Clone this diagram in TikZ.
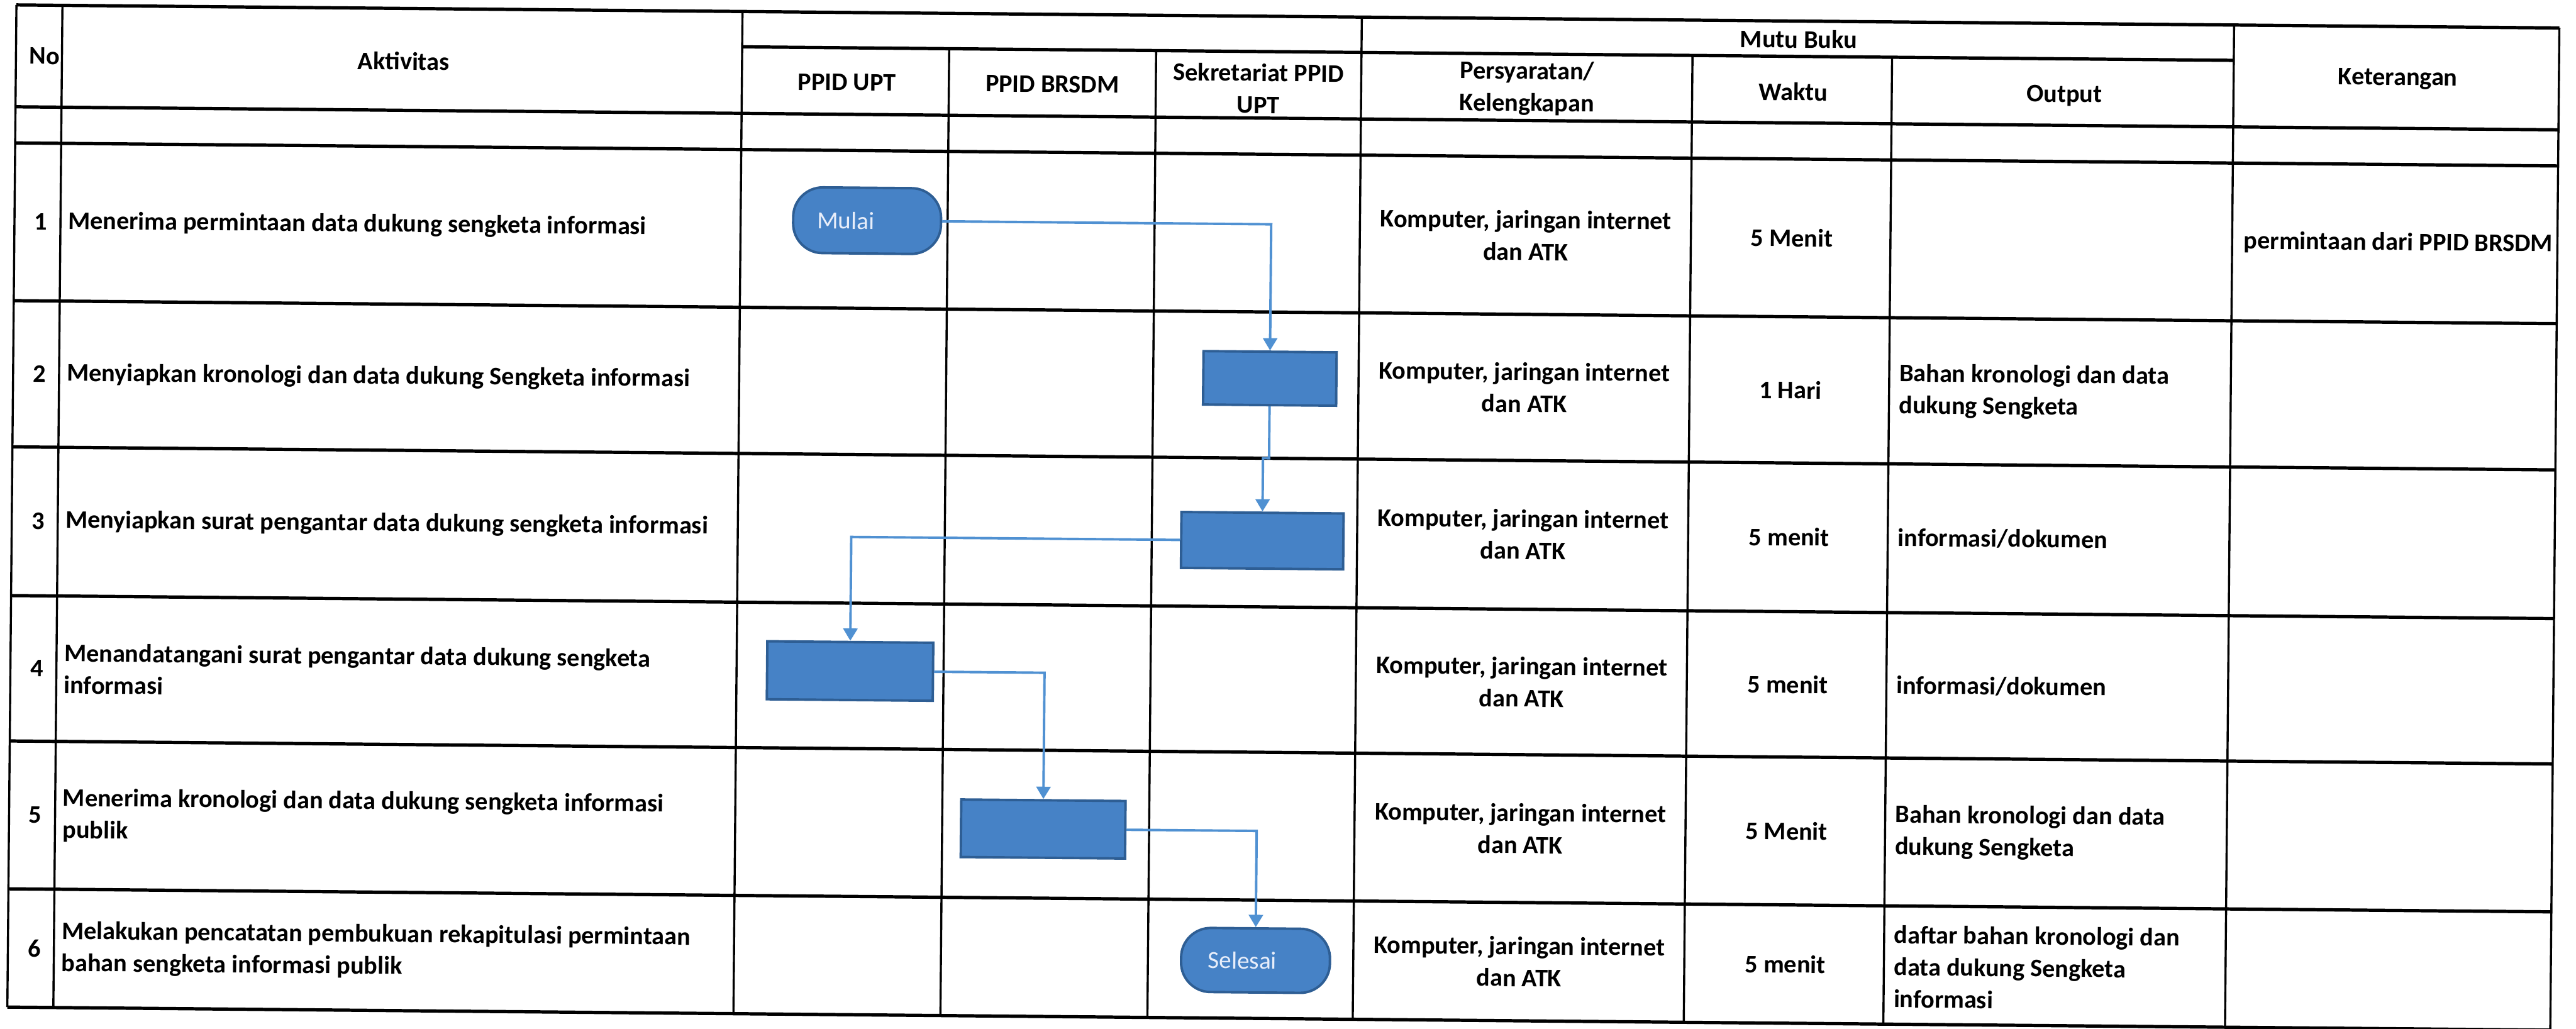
\documentclass[tikz,border=0pt]{standalone}
\usepackage{fontspec}
\setmainfont{Carlito}
\usetikzlibrary{arrows.meta}
\definecolor{boxfill}{RGB}{70,130,198}
\definecolor{boxline}{RGB}{46,94,148}
\definecolor{flowline}{RGB}{80,145,210}
\definecolor{boxtext}{RGB}{232,238,250}
\begin{document}
\begin{tikzpicture}[x=1pt,y=-1pt,
  hl/.style={line width=2.0pt, black},
  vl/.style={line width=1.3pt, black},
  txt/.style={font=\fontsize{15.4}{19.5}\selectfont\bfseries, inner sep=0pt},
  hdr/.style={txt, align=center},
  ctr/.style={txt, align=center},
  cell/.style={txt, anchor=west, align=left},
  proc/.style={draw=boxline, fill=boxfill, line width=1.5pt},
  term/.style={draw=boxline, fill=boxfill, line width=1.5pt, rounded corners=18pt},
  boxtxt/.style={font=\fontsize{15}{18}\selectfont, text=boxtext, inner sep=0pt},
  flow/.style={draw=flowline, line width=1.5pt, -{Triangle[width=8.6pt,length=7.5pt]}}
]
\useasboundingbox (0,0) rectangle (1568,626);
\fill[white] (0,0) rectangle (1568,626);
\begin{scope}[rotate around={-0.52:(10,3)}, transform shape]
  % horizontal rules
  \draw[hl] (10,3) -- (1558,3);
  \draw[hl] (452,24.5) -- (1360,24.5);
  \foreach \yy in {65,87,183,272,362.5,451,541,613}
    \draw[hl] (10,\yy) -- (1558,\yy);
  % vertical rules
  \foreach \xx in {10,38,452,829,1360,1558}
    \draw[vl] (\xx,3) -- (\xx,613);
  \foreach \xx in {578,704,1030.5,1152}
    \draw[vl] (\xx,24.5) -- (\xx,613);

  % header
  \node[hdr] (hNo) at (27.5,34) {No};
  \node[hdr] (hAkt) at (246,35) {Aktivitas};
  \node[hdr] (hUPT) at (516,45.5) {PPID UPT};
  \node[hdr] (hBR) at (641,45.5) {PPID BRSDM};
  \node[hdr] (hSek) at (766.5,47) {Sekretariat PPID\\UPT};
  \node[hdr] (hMutu) at (1095,14) {Mutu Buku};
  \node[hdr] (hPer) at (930,45.5) {Persyaratan/\\Kelengkapan};
  \node[hdr] (hWak) at (1092,46) {Waktu};
  \node[hdr] (hOut) at (1257,47) {Output};
  \node[hdr] (hKet) at (1460,35) {Keterangan};

  % numbers
  \node[ctr] (n1) at (26,135) {1};
  \node[ctr] (n2) at (26,227.5) {2};
  \node[ctr] (n3) at (26,317) {3};
  \node[ctr] (n4) at (26,406.8) {4};
  \node[ctr] (n5) at (26,496) {5};
  \node[ctr] (n6) at (26,577) {6};

  % activities
  \node[cell] (a1) at (42.5,135) {Menerima permintaan data dukung sengketa informasi};
  \node[cell] (a2) at (42.5,227.5) {Menyiapkan kronologi dan data dukung Sengketa informasi};
  \node[cell] (a3) at (42.5,317) {Menyiapkan surat pengantar data dukung sengketa informasi};
  \node[cell] (a4) at (42.5,406.8) {Menandatangani surat pengantar data dukung sengketa\\informasi};
  \node[cell] (a5) at (42.5,496) {Menerima kronologi dan data dukung sengketa informasi\\publik};
  \node[cell] (a6) at (42.5,577) {Melakukan pencatatan pembukuan rekapitulasi permintaan\\bahan sengketa informasi publik};

  % persyaratan
  \foreach \yy/\nm in {135/p1,227.5/p2,317/p3,406.8/p4,496/p5,577/p6}
    \node[ctr] (\nm) at (930,\yy) {Komputer, jaringan internet\\dan ATK};

  % waktu
  \node[ctr] (w1) at (1092,135) {5 Menit};
  \node[ctr] (w2) at (1092,227.5) {1 Hari};
  \node[ctr] (w3) at (1092,317) {5 menit};
  \node[ctr] (w4) at (1092,406.8) {5 menit};
  \node[ctr] (w5) at (1092,496) {5 Menit};
  \node[ctr] (w6) at (1092,577) {5 menit};

  % output
  \node[cell] (o2) at (1158,227.5) {Bahan kronologi dan data\\dukung Sengketa};
  \node[cell] (o3) at (1158,317) {informasi/dokumen};
  \node[cell] (o4) at (1158,406.8) {informasi/dokumen};
  \node[cell] (o5) at (1158,496) {Bahan kronologi dan data\\dukung Sengketa};
  \node[cell] (o6) at (1158,578) {daftar bahan kronologi dan\\data dukung Sengketa\\informasi};

  % keterangan
  \node[cell] (k1) at (1367,135) {permintaan dari PPID BRSDM};

  % flowchart
  \node[term, minimum width=90pt, minimum height=40pt] (mulai) at (529,129.6) {};
  \node[boxtxt] (tmulai) at ([xshift=-13pt]mulai.center) {Mulai};
  \node[proc, minimum width=81pt, minimum height=32.5pt] (b2) at (775,223.4) {};
  \node[proc, minimum width=98.7pt, minimum height=34pt] (b3) at (771.3,322.2) {};
  \node[proc, minimum width=101pt, minimum height=35.3pt] (b4) at (521.1,403.8) {};
  \node[proc, minimum width=100pt, minimum height=35pt] (b5) at (639.5,498.9) {};
  \node[term, minimum width=90.6pt, minimum height=39pt] (sel) at (769.5,577.7) {};
  \node[boxtxt] (tsel) at ([xshift=-8pt]sel.center) {Selesai};

  \coordinate (jy) at (0,272);
  \draw[flow] (mulai.east) -| (b2.north);
  \draw[flow] (b2.south) -- (b2.south |- jy) -| (b3.north);
  \draw[flow] (b3.west) -| (b4.north);
  \draw[flow] (b4.east) -| (b5.north);
  \draw[flow] (b5.east) -| (sel.north);
\end{scope}
\end{tikzpicture}
\end{document}
